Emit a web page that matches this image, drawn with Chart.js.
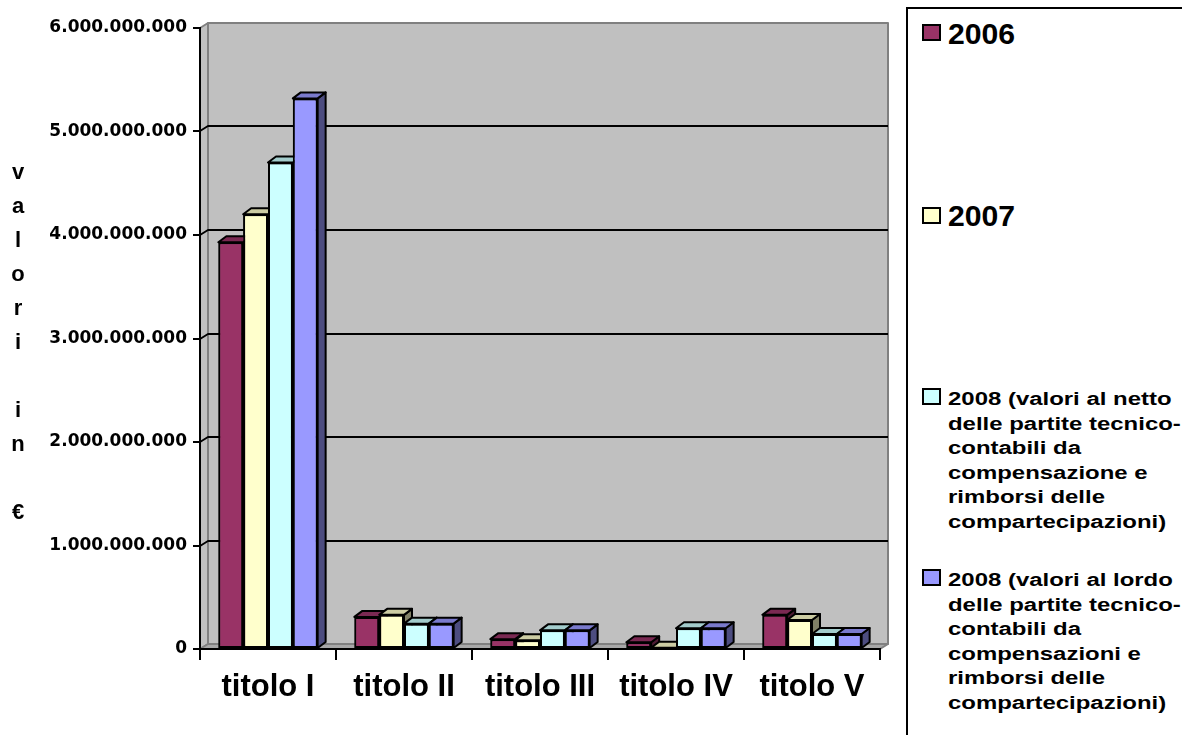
<!DOCTYPE html>
<html lang="it">
<head>
<meta charset="utf-8">
<title>Entrate per titolo 2006-2008</title>
<script src="https://cdn.jsdelivr.net/npm/chart.js@4.4.1/dist/chart.umd.min.js"></script>
<style>
  html, body { margin: 0; padding: 0; background: #fff; }
  #wrap { position: relative; width: 1182px; height: 735px; overflow: hidden; }
  #c { position: absolute; left: 0; top: 0; }
  #ytitle {
    position: absolute; left: 3px; top: 155px; width: 30px;
    text-align: center; font: bold 22px "Liberation Sans", Arial, sans-serif;
    line-height: 34px; white-space: pre; color: #000;
  }
  #legend {
    position: absolute; left: 906px; top: 7px; width: 300px; height: 760px;
    border: 2px solid #000; box-sizing: border-box; background: #fff;
  }
  .sw { position: absolute; left: 14px; width: 19px; height: 17px; border: 2px solid #000; box-sizing: border-box; }
  .txt {
    position: absolute; left: 40px; font-weight: bold; color: #000;
    font-family: "Liberation Sans", Arial, sans-serif;
    transform-origin: 0 0; white-space: nowrap;
  }
</style>
</head>
<body>
<div id="wrap">
  <canvas id="c" width="1182" height="735" style="width:1182px;height:735px"></canvas>
  <div id="ytitle"></div>
  <div id="legend"></div>
</div>
<script>
// Categories (bilancio titles) and yearly amounts in euro
const categories = ['titolo I', 'titolo II', 'titolo III', 'titolo IV', 'titolo V'];

const values2006      = [3.93e9, 0.31e9, 0.095e9, 0.065e9, 0.33e9];
const values2007      = [4.20e9, 0.33e9, 0.085e9, 0.012e9, 0.28e9];
const values2008Netto = [4.70e9, 0.245e9, 0.18e9, 0.20e9, 0.145e9];
const values2008Lordo = [5.32e9, 0.245e9, 0.18e9, 0.20e9, 0.145e9];

// Series names, split into the lines shown in the legend
const name2006 = ['2006'];
const name2007 = ['2007'];
const name2008Netto = ['2008 (valori al netto', 'delle partite tecnico-', 'contabili da', 'compensazione e', 'rimborsi delle', 'compartecipazioni)'];
const name2008Lordo = ['2008 (valori al lordo', 'delle partite tecnico-', 'contabili da', 'compensazioni e', 'rimborsi delle', 'compartecipazioni)'];

// Value axis ticks and their labels
const yTickValues = [0, 1e9, 2e9, 3e9, 4e9, 5e9, 6e9];
const yTickLabels = ['0', '1.000.000.000', '2.000.000.000', '3.000.000.000', '4.000.000.000', '5.000.000.000', '6.000.000.000'];

const yTitleLines = ['v', 'a', 'l', 'o', 'r', 'i', '', 'i', 'n', '', '€'];

// Face colours: front, top, side
const frontColors = ['#993366', '#FFFFCC', '#CCFFFF', '#9999FF'];
const topColors   = ['#7a2952', '#cccca3', '#a3cccc', '#7a7acc'];
const sideColors  = ['#4d1a33', '#808066', '#668080', '#4d4d80'];

const WALL_DX = 8, WALL_DY = -5;
const BAR_DX = 8, BAR_DY = -6;

function poly(ctx, pts, fill, stroke, lw) {
  ctx.beginPath();
  ctx.moveTo(pts[0][0], pts[0][1]);
  for (let k = 1; k < pts.length; k++) ctx.lineTo(pts[k][0], pts[k][1]);
  ctx.closePath();
  if (fill) { ctx.fillStyle = fill; ctx.fill(); }
  if (stroke) { ctx.strokeStyle = stroke; ctx.lineWidth = lw; ctx.lineJoin = 'round'; ctx.stroke(); }
}

// Walls, floor and gridlines of the 3D box, then bar tops and sides
const box3d = {
  id: 'box3d',
  beforeDraw(chart) {
    const ctx = chart.ctx, a = chart.chartArea, ys = chart.scales.y;
    ctx.save();
    poly(ctx, [[a.left, a.top], [a.left + WALL_DX, a.top + WALL_DY], [a.left + WALL_DX, a.bottom + WALL_DY], [a.left, a.bottom]], '#c0c0c0', '#808080', 2);
    poly(ctx, [[a.left + WALL_DX, a.top + WALL_DY], [a.right + WALL_DX, a.top + WALL_DY], [a.right + WALL_DX, a.bottom + WALL_DY], [a.left + WALL_DX, a.bottom + WALL_DY]], '#c0c0c0', '#808080', 2);
    poly(ctx, [[a.left, a.bottom], [a.left + WALL_DX, a.bottom + WALL_DY], [a.right + WALL_DX, a.bottom + WALL_DY], [a.right, a.bottom]], '#a8a8a8', '#808080', 2);
    ctx.strokeStyle = '#000';
    ctx.lineWidth = 2;
    yTickValues.forEach(v => {
      if (v === 0 || v === yTickValues[yTickValues.length - 1]) return;
      const py = Math.round(ys.getPixelForValue(v));
      ctx.beginPath();
      ctx.moveTo(a.left, py);
      ctx.lineTo(a.left + WALL_DX, py + WALL_DY);
      ctx.lineTo(a.right + WALL_DX, py + WALL_DY);
      ctx.stroke();
    });
    ctx.restore();
  },
  afterDatasetsDraw(chart) {
    const ctx = chart.ctx;
    const metas = chart.data.datasets.map((d, i) => chart.getDatasetMeta(i));
    ctx.save();
    for (let j = 0; j < categories.length; j++) {
      metas.forEach((m, i) => {
        const el = m.data[j];
        el.draw(ctx);
        const p = el.getProps(['x', 'y', 'base', 'width'], true);
        const x1 = p.x - p.width / 2, x2 = p.x + p.width / 2;
        poly(ctx, [[x2, p.y], [x2 + BAR_DX, p.y + BAR_DY], [x2 + BAR_DX, p.base + BAR_DY], [x2, p.base]], sideColors[i], '#000', 2);
        poly(ctx, [[x1, p.y], [x1 + BAR_DX, p.y + BAR_DY], [x2 + BAR_DX, p.y + BAR_DY], [x2, p.y]], topColors[i], '#000', 2);
      });
    }
    ctx.restore();
  }
};

const seriesValues = [values2006, values2007, values2008Netto, values2008Lordo];
const seriesNames = [name2006, name2007, name2008Netto, name2008Lordo];

new Chart(document.getElementById('c'), {
  type: 'bar',
  data: {
    labels: categories,
    datasets: seriesValues.map((vals, i) => ({
      label: seriesNames[i].join(' '),
      data: vals,
      backgroundColor: frontColors[i],
      borderColor: '#000',
      borderWidth: 2,
      borderSkipped: false,
      categoryPercentage: 0.73,
      barPercentage: 1.0
    }))
  },
  options: {
    responsive: false,
    animation: false,
    devicePixelRatio: 1,
    layout: { padding: { left: 0, top: 28, right: 302, bottom: 0 } },
    plugins: { legend: { display: false }, tooltip: { enabled: false } },
    scales: {
      x: {
        grid: { display: true, offset: true, drawOnChartArea: false, drawTicks: true, tickLength: 11, color: '#000', lineWidth: 2 },
        border: { display: true, color: '#000', width: 2 },
        ticks: { color: '#000', padding: 9, maxRotation: 0, font: { family: '"Liberation Sans", Arial, sans-serif', size: 31, weight: 'bold' } },
        afterFit: s => { s.height = 86; }
      },
      y: {
        min: 0,
        max: yTickValues[yTickValues.length - 1],
        afterBuildTicks: s => { s.ticks = yTickValues.map(v => ({ value: v })); },
        grid: { display: true, drawOnChartArea: false, drawTicks: true, tickLength: 7, color: '#000', lineWidth: 2 },
        border: { display: true, color: '#000', width: 2 },
        ticks: {
          color: '#000', padding: 6,
          font: { family: '"DejaVu Sans", sans-serif', size: 17, weight: 'bold' },
          callback: (v) => yTickLabels[yTickValues.indexOf(v)]
        },
        afterFit: s => { s.width = 200; }
      }
    }
  },
  plugins: [box3d]
});

// Axis title, one letter per line
document.getElementById('ytitle').textContent = yTitleLines.join('\n');

// Legend entries
const legend = document.getElementById('legend');
const entryTops = [8, 190, 378, 559];
const swatchTops = [15, 198, 379, 560];
seriesNames.forEach((lines, i) => {
  const sw = document.createElement('div');
  sw.className = 'sw';
  sw.style.top = swatchTops[i] + 'px';
  sw.style.background = frontColors[i];
  legend.appendChild(sw);
  const t = document.createElement('div');
  t.className = 'txt';
  t.style.top = entryTops[i] + 'px';
  if (lines.length === 1) {
    t.style.fontSize = '29px';
    t.style.lineHeight = '34px';
    t.style.transform = 'scaleX(1.04)';
  } else {
    t.style.fontSize = '18px';
    t.style.lineHeight = '24.5px';
    t.style.transform = 'scaleX(1.33)';
  }
  lines.forEach((ln, k) => {
    if (k) t.appendChild(document.createElement('br'));
    t.appendChild(document.createTextNode(ln));
  });
  legend.appendChild(t);
});
</script>
</body>
</html>
